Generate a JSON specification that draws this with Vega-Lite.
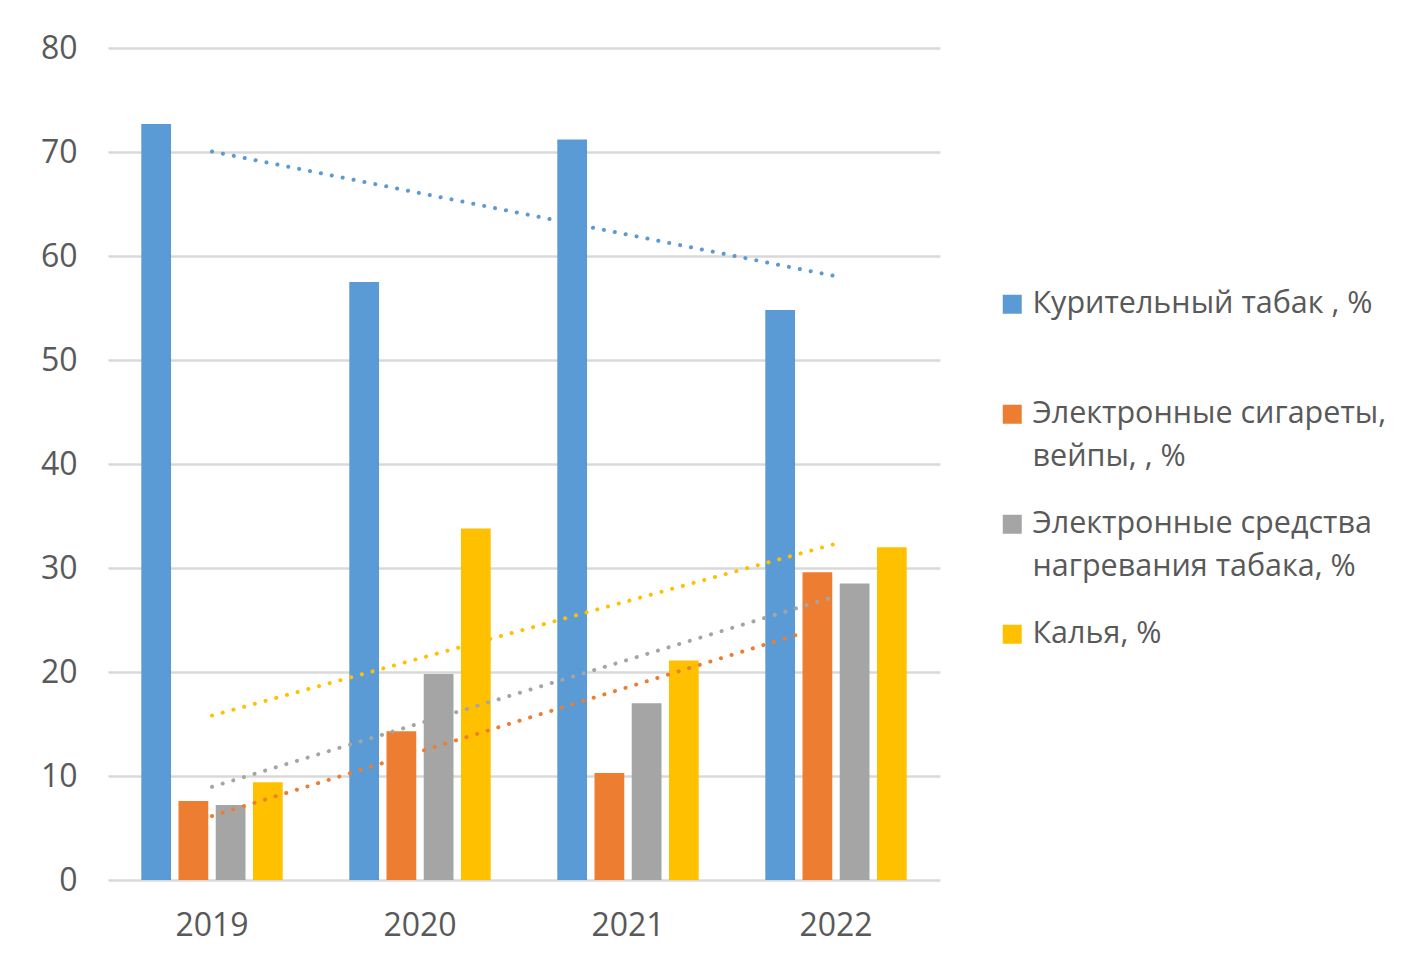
{
  "$schema": "https://vega.github.io/schema/vega-lite/v6.json",
  "width": 832,
  "height": 832,
  "autosize": {"type": "none"},
  "padding": {"left": 108, "top": 48, "right": 464, "bottom": 87},
  "background": "white",
  "config": {
    "font": "Open Sans",
    "view": {"stroke": null},
    "axis": {"labelFont": "Open Sans", "labelColor": "#595959", "labelFontSize": 32, "titleFont": "Open Sans"},
    "legend": {"labelFont": "Open Sans"}
  },
  "data": {
    "values": [
      {"year": 2019, "series": "Курительный табак , %", "value": 72.7},
      {"year": 2019, "series": "Электронные сигареты, вейпы, , %", "value": 7.6},
      {"year": 2019, "series": "Электронные средства нагревания табака, %", "value": 7.2},
      {"year": 2019, "series": "Калья, %", "value": 9.4},
      {"year": 2020, "series": "Курительный табак , %", "value": 57.5},
      {"year": 2020, "series": "Электронные сигареты, вейпы, , %", "value": 14.3},
      {"year": 2020, "series": "Электронные средства нагревания табака, %", "value": 19.8},
      {"year": 2020, "series": "Калья, %", "value": 33.8},
      {"year": 2021, "series": "Курительный табак , %", "value": 71.2},
      {"year": 2021, "series": "Электронные сигареты, вейпы, , %", "value": 10.3},
      {"year": 2021, "series": "Электронные средства нагревания табака, %", "value": 17.0},
      {"year": 2021, "series": "Калья, %", "value": 21.1},
      {"year": 2022, "series": "Курительный табак , %", "value": 54.8},
      {"year": 2022, "series": "Электронные сигареты, вейпы, , %", "value": 29.6},
      {"year": 2022, "series": "Электронные средства нагревания табака, %", "value": 28.5},
      {"year": 2022, "series": "Калья, %", "value": 32.0}
    ]
  },
  "encoding": {
    "x": {
      "field": "year",
      "type": "ordinal",
      "scale": {"paddingInner": 0.32, "paddingOuter": 0.16},
      "axis": {"title": null, "labelAngle": 0, "domain": false, "ticks": false, "labelPadding": 30, "grid": false}
    },
    "y": {
      "field": "value",
      "type": "quantitative",
      "scale": {"domain": [0, 80], "nice": false},
      "axis": {"title": null, "values": [0, 10, 20, 30, 40, 50, 60, 70, 80], "domain": false, "ticks": false, "labelPadding": 31, "gridColor": "#d9d9d9", "gridWidth": 2.5}
    },
    "color": {
      "field": "series",
      "type": "nominal",
      "scale": {
        "domain": ["Курительный табак , %", "Электронные сигареты, вейпы, , %", "Электронные средства нагревания табака, %", "Калья, %"],
        "range": ["#5B9BD5", "#ED7D31", "#A5A5A5", "#FFC000"]
      },
      "legend": {
        "title": null,
        "orient": "none",
        "legendX": 889,
        "legendY": 241,
        "symbolType": "square",
        "symbolSize": 361,
        "symbolStrokeWidth": 0,
        "labelFontSize": 30.5,
        "labelColor": "#595959",
        "labelLimit": 0,
        "labelOffset": 5,
        "rowPadding": 36,
        "labelExpr": "datum.label == 'Электронные сигареты, вейпы, , %' ? ['Электронные сигареты,', 'вейпы, , %'] : datum.label == 'Электронные средства нагревания табака, %' ? ['Электронные средства', 'нагревания табака, %'] : [datum.label, ' ']",
        "encode": {"labels": {"update": {"lineHeight": {"value": 43}}}}
      }
    }
  },
  "layer": [
    {
      "mark": {"type": "bar"},
      "encoding": {
        "xOffset": {
          "field": "series",
          "type": "nominal",
          "sort": ["Курительный табак , %", "Электронные сигареты, вейпы, , %", "Электронные средства нагревания табака, %", "Калья, %"],
          "scale": {"paddingInner": 0.2, "paddingOuter": 0}
        }
      }
    },
    {
      "transform": [
        {"regression": "value", "on": "year", "groupby": ["series"]}
      ],
      "mark": {"type": "line", "strokeWidth": 4, "strokeCap": "round", "strokeDash": [0.1, 11]},
      "encoding": {}
    }
  ]
}
